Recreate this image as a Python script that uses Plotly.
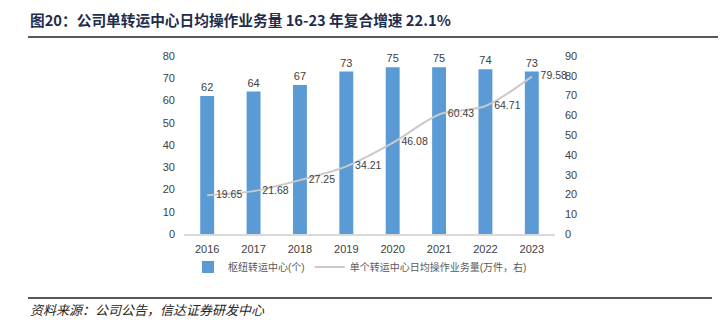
import plotly.graph_objects as go

years = ["2016", "2017", "2018", "2019", "2020", "2021", "2022", "2023"]
hubs = [62, 64, 67, 73, 75, 75, 74, 73]
daily_volume = [19.65, 21.68, 27.25, 34.21, 46.08, 60.43, 64.71, 79.58]
left_ticks = [0, 10, 20, 30, 40, 50, 60, 70, 80]
right_ticks = [0, 10, 20, 30, 40, 50, 60, 70, 80, 90]

title_text = "图20：公司单转运中心日均操作业务量 16-23 年复合增速 22.1%"
source_text = "资料来源：公司公告，信达证券研发中心"
bar_name = "枢纽转运中心(个)"
line_name = "单个转运中心日均操作业务量(万件，右)"

FONT = "Liberation Sans, Noto Sans CJK SC, sans-serif"
W, H = 725, 323
L, R, T, B = 184, 170, 56, 89
PW = W - L - R
PH = H - T - B


def px(x):
    return (x - L) / PW


def py(y):
    return (H - B - y) / PH


NB = "\u00a0"

fig = go.Figure()
fig.add_trace(go.Bar(
    x=years, y=hubs, name=bar_name,
    marker=dict(color="#5B9BD5", line=dict(width=0)),
    width=0.3,
    text=[str(v) for v in hubs], textposition="outside", constraintext="none",
    textfont=dict(size=11, color="#404040", family=FONT),
    cliponaxis=False,
))
fig.add_trace(go.Scatter(
    x=years, y=daily_volume, name=line_name, yaxis="y2",
    mode="lines+text",
    line=dict(color="#C9C9C9", width=2, shape="spline", smoothing=0.8),
    text=[NB * 3 + f"{v:.2f}" for v in daily_volume], textposition="middle right",
    textfont=dict(size=10.5, color="#404040", family=FONT),
    cliponaxis=False,
))

fig.update_layout(
    width=W, height=H,
    margin=dict(l=L, r=R, t=T, b=B, autoexpand=False),
    paper_bgcolor="white", plot_bgcolor="white",
    font=dict(family=FONT, size=11, color="#404040"),
    showlegend=True,
    legend=dict(orientation="h", x=px(188), xanchor="left", y=py(267), yanchor="middle",
                font=dict(size=10, color="#595959", family=FONT),
                bgcolor="rgba(0,0,0,0)", itemwidth=30),
    xaxis=dict(type="category", range=[-0.5, 7.5], showgrid=False, showline=True,
               linecolor="#D9D9D9", linewidth=1.5, ticks="", tickangle=0, automargin=False,
               ticklabelstandoff=4, tickfont=dict(size=11, color="#404040")),
    yaxis=dict(range=[0, 80], tickvals=left_ticks, showgrid=False, zeroline=False, automargin=False,
               showline=False, ticks="", ticklabelstandoff=8,
               tickfont=dict(size=11, color="#404040")),
    yaxis2=dict(range=[0, 90], tickvals=right_ticks, overlaying="y", side="right", automargin=False,
                showgrid=False, zeroline=False, showline=False, ticks="", ticklabelstandoff=9,
                tickfont=dict(size=11, color="#404040")),
    bargap=0.7,
)

fig.add_annotation(text=title_text, xref="paper", yref="paper",
                   x=px(28), y=py(20), xanchor="left", yanchor="middle",
                   showarrow=False, bgcolor="rgba(0,0,0,0)",
                   font=dict(size=14.7, color="#1F2D4D", family="Noto Sans CJK SC", weight="bold"))
fig.add_annotation(text="<i>" + source_text + "</i>", xref="paper", yref="paper",
                   x=px(28), y=py(309), xanchor="left", yanchor="middle",
                   showarrow=False, font=dict(size=13, color="#262626", family="Noto Sans CJK SC"))

fig.add_shape(type="line", xref="paper", yref="y domain", layer="above",
              x0=px(28), x1=px(718), y0=py(37), y1=py(37),
              line=dict(color="#595959", width=2))
fig.add_shape(type="line", xref="paper", yref="y domain", layer="above",
              x0=px(28), x1=px(712), y0=py(298), y1=py(298),
              line=dict(color="#595959", width=2))

fig.write_html("out.html", config={"displayModeBar": False})
